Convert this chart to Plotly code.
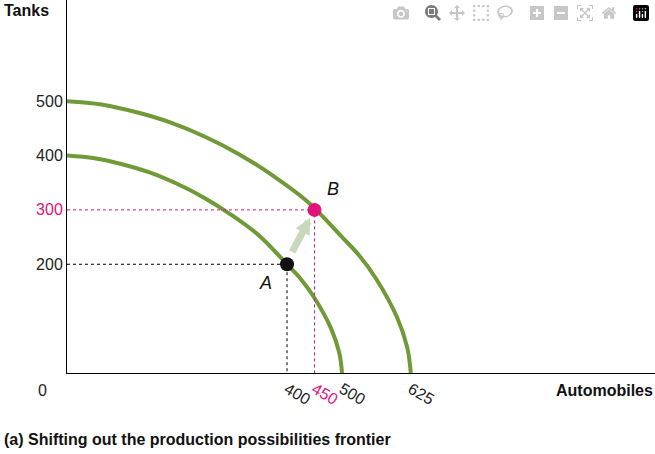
import plotly.graph_objects as go

# PPF curves
inner_x = [0, 50, 100, 150, 200, 250, 300, 350, 400, 425, 450, 480, 495, 500]
inner_y = [400, 395, 384, 369, 348, 322, 290, 252, 200, 173, 138, 82, 37, 0]
outer_x = [0, 62.5, 125, 187.5, 250, 312.5, 375, 437.5, 500, 531.25, 562.5, 600, 618.75, 625]
outer_y = [500, 494, 480, 461, 435, 402.5, 362.5, 315, 250, 216, 172.5, 102.5, 46.25, 0]

point_a = (400, 200)
point_b = (450, 300)

y_ticks = [200, 300, 400, 500]
x_ticks = [400, 450, 500, 625]

green = '#6f9a37'
pink = '#e0147a'
font = 'Liberation Sans, Arial, sans-serif'

fig = go.Figure()
fig.add_trace(go.Scatter(x=inner_x, y=inner_y, mode='lines', line=dict(color=green, width=4, shape='spline')))
fig.add_trace(go.Scatter(x=outer_x, y=outer_y, mode='lines', line=dict(color=green, width=4, shape='spline')))

# dotted guides
fig.add_trace(go.Scatter(x=[0, point_a[0], point_a[0]], y=[point_a[1], point_a[1], 0], mode='lines',
                         line=dict(color='black', width=1, dash='dot')))
fig.add_trace(go.Scatter(x=[0, point_b[0], point_b[0]], y=[point_b[1], point_b[1], 0], mode='lines',
                         line=dict(color=pink, width=1, dash='dot')))

# shift arrow
fig.add_annotation(x=point_b[0] - 8, y=point_b[1] - 15, ax=point_a[0] + 8, ay=point_a[1] + 20,
                   xref='x', yref='y', axref='x', ayref='y', showarrow=True, text='',
                   arrowcolor='#c9d8bc', arrowwidth=7, arrowhead=2, arrowsize=0.45)

fig.add_trace(go.Scatter(x=[point_a[0]], y=[point_a[1]], mode='markers', marker=dict(color='#111', size=14)))
fig.add_trace(go.Scatter(x=[point_b[0]], y=[point_b[1]], mode='markers', marker=dict(color=pink, size=14)))

fig.add_annotation(x=point_a[0] - 40, y=point_a[1] - 35, text='<i>A</i>', showarrow=False,
                   font=dict(size=18, color='#111', family=font))
fig.add_annotation(x=point_b[0] + 33, y=point_b[1] + 38, text='<i>B</i>', showarrow=False,
                   font=dict(size=18, color='#111', family=font))

tick_text = [str(v) for v in x_ticks]
tick_text[1] = f'<span style="color:{pink}">450</span>'
ytext = [str(v) for v in y_ticks]
ytext[1] = f'<span style="color:{pink}">300</span>'

fig.update_xaxes(range=[0, 1069], tickvals=x_ticks, ticktext=tick_text, showgrid=False, zeroline=False,
                 showline=True, linecolor='black', linewidth=1, ticks='', ticklen=0)
fig.update_yaxes(range=[0, 686], tickvals=y_ticks, ticktext=ytext, showgrid=False, zeroline=False,
                 showline=True, linecolor='black', linewidth=1, ticks='')

fig.add_annotation(x=-0.03, y=-0.02, xref='paper', yref='paper', text='0', showarrow=False,
                   xanchor='right', yanchor='top', font=dict(size=16, family=font, color='#222'))
fig.add_annotation(x=-0.11, y=1.0, xref='paper', yref='paper', text='<b>Tanks</b>', showarrow=False,
                   xanchor='left', yanchor='top', font=dict(size=16, family=font, color='#111'))
fig.add_annotation(x=1.0, y=-0.02, xref='paper', yref='paper', text='<b>Automobiles</b>', showarrow=False,
                   xanchor='right', yanchor='top', font=dict(size=16, family=font, color='#111'))
fig.add_annotation(x=-0.11, y=-0.15, xref='paper', yref='paper',
                   text='<b>(a) Shifting out the production possibilities frontier</b>', showarrow=False,
                   xanchor='left', yanchor='top', font=dict(size=16, family=font, color='#111'))

fig.update_layout(width=655, height=454, margin=dict(l=67, r=0, t=0, b=81),
                  plot_bgcolor='white', paper_bgcolor='white', showlegend=False,
                  font=dict(family=font, size=16, color='#222'))

fig.write_html("out.html", post_script="document.body.style.margin='0';")
